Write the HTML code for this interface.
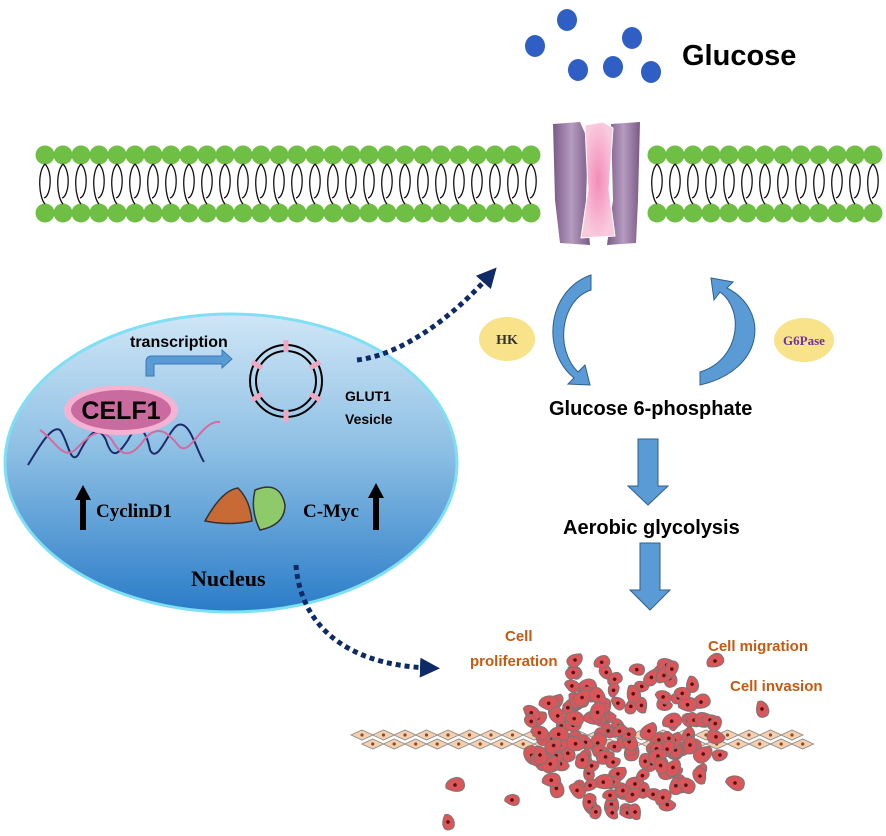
<!DOCTYPE html>
<html><head><meta charset="utf-8"><style>
html,body{margin:0;padding:0;background:#fff;width:886px;height:836px;overflow:hidden}
svg{display:block}
.s{font-family:"Liberation Sans",sans-serif}
.f{font-family:"Liberation Serif",serif}
</style></head><body>
<svg id="s" width="886" height="836" viewBox="0 0 886 836" xmlns="http://www.w3.org/2000/svg">
<defs>
<linearGradient id="nuc" x1="0" y1="0" x2="0" y2="1">
<stop offset="0" stop-color="#cfe6f6"/><stop offset="0.45" stop-color="#8ec0e4"/><stop offset="1" stop-color="#2a7cc8"/>
</linearGradient>
<linearGradient id="pur" x1="0" x2="1"><stop offset="0" stop-color="#7a5a86"/><stop offset="0.5" stop-color="#b69cc0"/><stop offset="1" stop-color="#7a5a86"/></linearGradient>
<radialGradient id="pink"><stop offset="0" stop-color="#f28cb8"/><stop offset="1" stop-color="#f9c9dc"/></radialGradient>
<marker id="ah" viewBox="0 0 10 10" refX="5" refY="5" markerWidth="4" markerHeight="4" orient="auto"><path d="M0,0L10,5L0,10z" fill="#0f2b66"/></marker>
</defs>
<g id="lip"></g>
<path d="M553,124 L580,122 L588,140 L586,200 L590,245 L560,243 L555,200 Z" fill="url(#pur)"/>
<path d="M611,124 L640,122 L638,200 L636,243 L607,245 L613,200 Z" fill="url(#pur)"/>
<path d="M585,125 L603,122 L613,128 L609,190 L615,236 L581,238 L588,190 Z" fill="url(#pink)" stroke="#fff" stroke-width="1"/>
<g fill="#2f5fc4">
<ellipse cx="567" cy="20" rx="10" ry="11"/><ellipse cx="535" cy="46" rx="10" ry="11"/><ellipse cx="632" cy="38" rx="10" ry="11"/>
<ellipse cx="578" cy="70" rx="10" ry="11"/><ellipse cx="613" cy="67" rx="10" ry="11"/><ellipse cx="651" cy="72" rx="10" ry="11"/>
</g>
<text class="s" x="682" y="65" font-size="29" font-weight="bold">Glucose</text>
<ellipse cx="231" cy="463" rx="226" ry="149" fill="url(#nuc)" stroke="#7fe0f5" stroke-width="3"/>
<text class="s" x="130" y="347" font-size="16" font-weight="bold">transcription</text>
<path d="M146,376 L146,362 Q146,356 152,356 L222,356 L222,350 L232,359 L222,368 L222,364 L154,364 L154,376 Z" fill="#5b9bd5" stroke="#3a78b5"/>
<circle cx="286" cy="381" r="36" fill="none" stroke="#000" stroke-width="2"/>
<circle cx="286" cy="381" r="30" fill="none" stroke="#000" stroke-width="2"/>
<g stroke="#f0a7c0" stroke-width="5">
<line x1="286" y1="340" x2="286" y2="352"/><line x1="286" y1="410" x2="286" y2="422"/>
<line x1="252" y1="362" x2="262" y2="368"/><line x1="310" y1="394" x2="320" y2="400"/>
<line x1="310" y1="368" x2="320" y2="362"/><line x1="252" y1="400" x2="262" y2="394"/>
</g>
<text class="s" x="345" y="401" font-size="14" font-weight="bold">GLUT1</text>
<text class="s" x="345" y="424" font-size="14" font-weight="bold">Vesicle</text>
<path d="M28,465 C40,445 52,425 60,430 C68,440 70,465 78,455 C86,440 96,420 106,440 C112,460 118,455 128,440 C138,420 146,430 150,450 C158,465 168,430 178,425 C190,420 196,450 204,462" fill="none" stroke="#1e2a6a" stroke-width="2"/>
<path d="M40,430 C55,440 62,460 75,450 C90,435 100,425 112,440 C120,455 130,460 144,440 C156,425 166,430 178,445 C190,460 200,420 220,422" fill="none" stroke="#d46aa0" stroke-width="2"/>
<ellipse cx="121" cy="410" rx="57" ry="25" fill="#f5b3d4"/>
<ellipse cx="121" cy="410" rx="50" ry="20" fill="#c96b9e"/>
<text class="s" x="121" y="419" font-size="25" font-weight="bold" text-anchor="middle">CELF1</text>
<path d="M80,530 L80,500 L75,500 L83,485 L91,500 L86,500 L86,530 Z" fill="#000"/>
<text class="f" x="96" y="517" font-size="19" font-weight="bold">CyclinD1</text>
<path d="M205,521 Q222,490 238,488 Q250,500 252,521 Q230,526 205,521 Z" fill="#c86a35" stroke="#333" stroke-width="1.5"/>
<path d="M255,490 Q280,480 285,505 Q285,525 260,530 Q250,510 255,490 Z" fill="#8ec96a" stroke="#333" stroke-width="1.5"/>
<text class="f" x="303" y="517" font-size="19" font-weight="bold">C-Myc</text>
<path d="M373,530 L373,498 L368,498 L376,483 L384,498 L379,498 L379,530 Z" fill="#000"/>
<text class="f" x="191" y="586" font-size="22" font-weight="bold">Nucleus</text>
<path d="M357,360 C400,355 450,320 490,275" fill="none" stroke="#0f2b66" stroke-width="5" stroke-dasharray="5,4" marker-end="url(#ah)"/>
<path d="M296,565 C300,620 340,665 430,668" fill="none" stroke="#0f2b66" stroke-width="5" stroke-dasharray="5,4" marker-end="url(#ah)"/>
<ellipse cx="507" cy="339" rx="28" ry="22" fill="#f8e38a"/>
<text class="f" x="507" y="344" font-size="14" font-weight="bold" text-anchor="middle" fill="#333">HK</text>
<ellipse cx="804" cy="340" rx="30" ry="22" fill="#f8e38a"/>
<text class="f" x="804" y="345" font-size="13" font-weight="bold" text-anchor="middle" fill="#7030a0">G6Pase</text>
<path d="M591,275 L591,290 C560,300 555,350 578,372 L585,365 L590,385 L568,384 L574,378 C540,350 548,290 591,275 Z" fill="#5b9bd5" stroke="#2e5f8e"/>
<path d="M700,385 L700,372 C740,360 745,310 720,292 L714,300 L711,278 L733,282 L727,288 C770,310 765,370 700,385 Z" fill="#5b9bd5" stroke="#2e5f8e"/>
<text class="s" x="549" y="415" font-size="20" font-weight="bold">Glucose 6-phosphate</text>
<path d="M638,439 L658,439 L658,486 L668,486 L648,505 L628,486 L638,486 Z" fill="#5b9bd5" stroke="#2e5f8e"/>
<text class="s" x="563" y="534" font-size="20" font-weight="bold">Aerobic glycolysis</text>
<path d="M640,543 L660,543 L660,590 L670,590 L650,610 L630,590 L640,590 Z" fill="#5b9bd5" stroke="#2e5f8e"/>
<g class="s" fill="#c55a11" font-size="15" font-weight="bold">
<text x="505" y="641">Cell</text><text x="470" y="666">proliferation</text>
<text x="708" y="651">Cell migration</text><text x="730" y="691">Cell invasion</text>
</g>
<g id="lat"></g>
<g id="cells"></g>
</svg>
<script>
var NS="http://www.w3.org/2000/svg";
function el(p,t,a){var e=document.createElementNS(NS,t);for(var k in a)e.setAttribute(k,a[k]);p.appendChild(e);return e;}
var lip=document.getElementById('lip');
for(var x=45;x<880;x+=18){
 if(x>545&&x<648)continue;
 el(lip,'circle',{cx:x,cy:155,r:9.5,fill:'#6fbf44'});
 el(lip,'circle',{cx:x,cy:213,r:9.5,fill:'#6fbf44'});
 el(lip,'path',{d:'M'+(x)+',164 C'+(x-8)+',172 '+(x-6)+',198 '+x+',204 M'+x+',164 C'+(x+8)+',172 '+(x+6)+',196 '+(x-1)+',198',fill:'none',stroke:'#111','stroke-width':1.3});
}
var lat=document.getElementById('lat');
for(var i=0;i<21;i++){
 var cx=362+i*21.5;
 [735,744].forEach(function(cy,j){var xx=cx+(j?10.7:0);
 el(lat,'path',{d:'M'+(xx-11)+','+cy+' L'+xx+','+(cy-5)+' L'+(xx+11)+','+cy+' L'+xx+','+(cy+5)+'Z',fill:'#f6cfae',stroke:'#888','stroke-width':0.8});
 el(lat,'circle',{cx:xx,cy:cy,r:1.6,fill:'#8a4a2a'});});
}
var cells=document.getElementById('cells');
var seed=7;function r(){seed=(seed*9301+49297)%233280;return seed/233280;}
function cell(x,y){var s=7+r()*3;var a=r()*360;
 var g=el(cells,'g',{transform:'translate('+x+','+y+') rotate('+a+')'});
 el(g,'path',{d:'M0,'+(-s)+' C'+s+','+(-s)+' '+s+','+s+' 0,'+s+' C'+(-s)+','+s+' '+(-s*1.1)+',0 0,'+(-s)+'Z',fill:'#d9575a',stroke:'#777','stroke-width':1});
 el(g,'circle',{cx:0,cy:0,r:1.8,fill:'#5a1010'});}
for(var i=0;i<160;i++){
 var ang=r()*6.283,rad=Math.sqrt(r());
 var x=622+Math.cos(ang)*rad*95, y=735+Math.sin(ang)*rad*80;
 cell(x,y);
}
[[575,660],[715,661],[762,709],[720,755],[700,776],[735,783],[455,785],[512,800],[448,822],[690,745],[540,755]].forEach(function(p){cell(p[0],p[1]);});
</script>
</body></html>
